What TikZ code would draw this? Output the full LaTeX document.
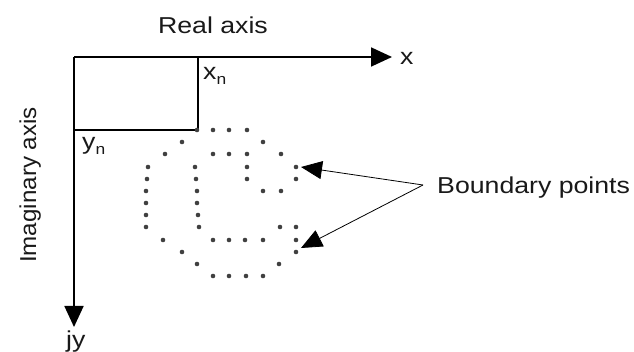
\documentclass[tikz,border=0pt]{standalone}
\usepackage{fontspec}
\setmainfont{Liberation Sans}
\usetikzlibrary{arrows.meta}
\newcommand{\wide}[1]{\scalebox{1.16}[1]{#1}}
\newcommand{\subn}{{\fontsize{15}{15}\selectfont\raisebox{-5pt}{n}}}
\begin{document}
\begin{tikzpicture}[x=1pt,y=-1pt,
  lbl/.style={inner sep=0pt,font=\fontsize{23}{26}\selectfont,text=black!90},
  axisline/.style={line width=1.8pt,-{Triangle[length=21pt,width=19pt]}},
  guide/.style={line width=1.1pt},
  pointer/.style={line width=0.8pt,-{Triangle[length=21pt,width=18pt]}},
  bdot/.style={circle,fill=black!75,inner sep=0pt,minimum size=4.6pt}]
  \useasboundingbox (0,0) rectangle (634,352);

  % axes
  \coordinate (O) at (74,57);
  \coordinate (xend) at (392,57);
  \coordinate (yend) at (74,327);
  \draw[axisline] (O) -- (xend);
  \draw[axisline] (O) -- (yend);

  % projection of a point onto the axes
  \coordinate (P) at (198,130);
  \coordinate (Px) at (198,57);
  \coordinate (Py) at (74,130);
  \draw[guide] (Px) -- (P) -- (Py);

  % labels
  \node[lbl,anchor=base] (real) at (213,34) {\wide{Real axis}};
  \node[lbl,anchor=base west] (xl) at (400,65) {\wide{x}};
  \node[lbl,anchor=base west] (xn) at (203,80) {\wide{x\subn}};
  \node[lbl,anchor=base west] (yn) at (82,150) {\wide{y\subn}};
  \node[lbl,anchor=base west] (jy) at (66,347) {\wide{jy}};
  \node[lbl,anchor=base,rotate=90] (imag) at (36,185) {\scalebox{1.05}[1]{Imaginary axis}};
  \node[lbl,anchor=base west] (bp) at (437,194) {\wide{Boundary points}};

  % boundary points of the shape
  \foreach \x/\y [count=\i] in {
    197/130,213/130,229/130,247/130,
    182/142,263/142,
    165/154,213/154,229/154,247/154,281/154,
    148/167,195/167,247/167,296/167,
    147/179,196/179,247/179,296/179,
    146/191,197/191,263/191,281/191,
    146/203,197/203,
    146/215,198/215,
    146/227,199/227,280/227,296/227,
    163/240,213/240,229/240,245/240,263/240,296/240,
    182/252,296/252,
    197/264,279/264,
    213/276,229/276,246/276,263/276}
    \node[bdot] (d\i) at (\x,\y) {};

  % pointers to the boundary
  \coordinate (src) at (423,185);
  \coordinate (tipA) at (301,167);
  \coordinate (tipB) at (301,248);
  \draw[pointer] (src) -- (tipA);
  \draw[pointer] (src) -- (tipB);
\end{tikzpicture}
\end{document}
